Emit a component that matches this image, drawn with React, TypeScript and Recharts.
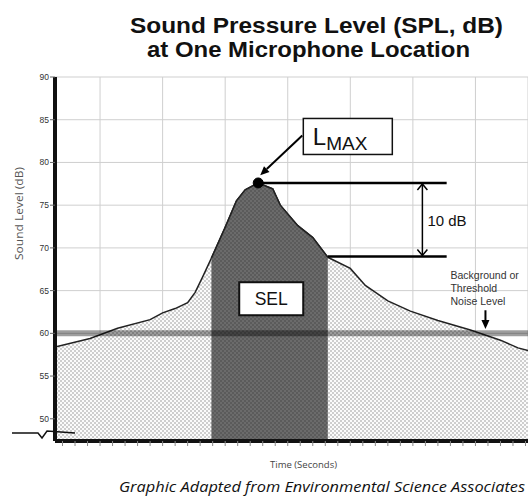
import React from "react";
import {
  ComposedChart,
  Area,
  XAxis,
  YAxis,
  CartesianGrid,
  ReferenceLine,
  ReferenceDot,
} from "recharts";

// ---- data (time in seconds, level in dB) ----
const times = [-3.6, -0.8, 1.4, 4, 5, 6, 7, 7.6, 8.2, 8.9, 10, 10.9, 11.6, 12.64, 13.8, 14.4, 15.8, 17, 18.2, 20, 21.2, 23, 24.8, 27, 29.6, 32, 33.4, 34.2];
const levels = [58.4, 59.4, 60.6, 61.6, 62.4, 62.9, 63.6, 64.8, 66.6, 68.8, 72.4, 75.5, 76.8, 77.6, 76.9, 75.0, 72.6, 71.2, 68.9, 67.6, 65.6, 63.8, 62.6, 61.5, 60.4, 59.2, 58.3, 58.0];
const selStart = 8.9;
const selEnd = 18.2;
const yTicks = [50, 55, 60, 65, 70, 75, 80, 85, 90];
const gridTimes = [0, 5, 10, 15, 20, 25, 30];
const minorTicks = [-3, -2, -1, 0, 1, 2, 3, 4, 5, 6, 7, 8, 9, 10, 11, 12, 13, 14, 15, 16, 17, 18, 19, 20, 21, 22, 23, 24, 25, 26, 27, 28, 29, 30, 31, 32, 33, 34];
const xDomain = [-3.6, 34.2];
const yDomain = [47.4, 90];
const backgroundLevel = 60;
const peakTime = 12.64;
const peakLevel = 77.6;
const tenDbLevel = 69.0;
const tenDbEndTime = 27.7;
const tenDbLowerStart = 18.2;
const tenDbArrowTime = 25.76;
const lmaxBox = { t: 19.8, level: 83.04 };
const lmaxArrowFrom = { t: 16.16, level: 83.15 };
const lmaxArrowTo = { t: 12.8, level: 78.5 };
const selBox = { t: 13.68, level: 64.05 };
const bgArrow = { t: 30.8, from: 62.7, to: 60.5 };

const data = times.map((t, i) => ({
  t,
  level: levels[i],
  sel: t >= selStart && t <= selEnd ? levels[i] : null,
}));

const SANS = "'Liberation Sans', Arial, Helvetica, sans-serif";
const HUMAN = "'Open Sans', 'Noto Sans', sans-serif";

const DoubleArrow = (p: any) => {
  const { x1, y1, x2, y2 } = p;
  const top = Math.min(y1, y2);
  const bot = Math.max(y1, y2);
  const h = 7;
  return (
    <g>
      <line x1={x1} y1={top} x2={x2} y2={bot} stroke="#000" strokeWidth={1.5} />
      <polyline points={`${x1 - 5},${top + h} ${x1},${top + 1} ${x1 + 5},${top + h}`} fill="none" stroke="#000" strokeWidth={1.5} />
      <polyline points={`${x1 - 5},${bot - h} ${x1},${bot - 1} ${x1 + 5},${bot - h}`} fill="none" stroke="#000" strokeWidth={1.5} />
      <text x={x1 + 5} y={(top + bot) / 2 + 6.5} fontFamily={SANS} fontSize={15} fill="#111">10 dB</text>
    </g>
  );
};

const FilledArrow = (p: any) => {
  const { x1, y1, x2, y2 } = p;
  const dx = x2 - x1;
  const dy = y2 - y1;
  const len = Math.sqrt(dx * dx + dy * dy) || 1;
  const ux = dx / len;
  const uy = dy / len;
  const hl = 9;
  const hw = 4;
  const bx = x2 - ux * hl;
  const by = y2 - uy * hl;
  return (
    <g>
      <line x1={x1} y1={y1} x2={bx} y2={by} stroke="#000" strokeWidth={2} />
      <polygon
        points={`${x2},${y2} ${bx - uy * hw},${by + ux * hw} ${bx + uy * hw},${by - ux * hw}`}
        fill="#000"
      />
    </g>
  );
};

const BgArrow = (p: any) => {
  const { x1, y1, x2, y2 } = p;
  return (
    <g>
      <FilledArrow x1={x1} y1={y1} x2={x2} y2={y2} />
      <text fontFamily={SANS} fontSize={10.5} fill="#333">
        <tspan x={x1 - 35} y={y1 - 31}>Background or</tspan>
        <tspan x={x1 - 35} y={y1 - 18}>Threshold</tspan>
        <tspan x={x1 - 35} y={y1 - 5}>Noise Level</tspan>
      </text>
    </g>
  );
};

const LmaxBox = (p: any) => {
  const { cx, cy } = p;
  const w = 89;
  const h = 36;
  return (
    <g>
      <rect x={cx - w / 2} y={cy - h / 2} width={w} height={h} fill="#fff" stroke="#111" strokeWidth={1.5} />
      <text x={cx - 35} y={cy + 9} fontSize={24} fontFamily={SANS} fill="#111">L</text>
      <text x={cx - 21.5} y={cy + 14} fontSize={19} fontFamily={SANS} fill="#111">MAX</text>
    </g>
  );
};

const SelBox = (p: any) => {
  const { cx, cy } = p;
  const w = 64;
  const h = 33;
  return (
    <g>
      <rect x={cx - w / 2} y={cy - h / 2} width={w} height={h} fill="#fff" stroke="#111" strokeWidth={2} />
      <text x={cx} y={cy + 6.5} textAnchor="middle" fontFamily={SANS} fontSize={17.5} fill="#111">SEL</text>
    </g>
  );
};

const PlainLine = (p: any) => (
  <line x1={p.x1} y1={p.y1} x2={p.x2} y2={p.y2} stroke="#000" strokeWidth={2.5} />
);

export default function App() {
  return (
    <div style={{ position: "absolute", left: 0, top: 0, width: 528, height: 498, background: "#fff", overflow: "hidden" }}>
      <ComposedChart
        width={528}
        height={498}
        data={data}
        margin={{ top: 77, right: 0, bottom: 27, left: 0 }}
      >
        <defs>
          <pattern id="lightDots" width={4} height={4} patternUnits="userSpaceOnUse">
            <rect width={4} height={4} fill="#fbfbfb" />
            <circle cx={1} cy={1} r={0.7} fill="#808080" />
            <circle cx={3} cy={3} r={0.7} fill="#808080" />
          </pattern>
          <pattern id="darkDots" width={4} height={4} patternUnits="userSpaceOnUse">
            <rect width={4} height={4} fill="#6b6b6b" />
            <circle cx={1} cy={1} r={0.8} fill="#474747" />
            <circle cx={3} cy={3} r={0.8} fill="#474747" />
          </pattern>
        </defs>
        <XAxis xAxisId="grid" dataKey="t" type="number" domain={xDomain} ticks={gridTimes} allowDataOverflow hide />
        <CartesianGrid xAxisId="grid" stroke="#cfcfcf" strokeWidth={1} />
        <XAxis
          dataKey="t"
          type="number"
          domain={xDomain}
          ticks={minorTicks}
          allowDataOverflow
          interval={0}
          height={30}
          tickSize={5}
          tickFormatter={() => ""}
          tickLine={{ stroke: "#888", strokeWidth: 1 }}
          axisLine={{ stroke: "#111", strokeWidth: 4 }}
        />
        <YAxis
          type="number"
          domain={yDomain}
          ticks={yTicks}
          allowDataOverflow
          interval={0}
          width={55}
          tickSize={5}
          tickMargin={1}
          tick={{ fontSize: 8.5, fill: "#333", fontFamily: SANS }}
          tickLine={{ stroke: "#666", strokeWidth: 1 }}
          axisLine={{ stroke: "#111", strokeWidth: 4 }}
        />
        <Area
          dataKey="level"
          type="linear"
          stroke="#222"
          strokeWidth={1.5}
          fill="url(#lightDots)"
          fillOpacity={1}
          isAnimationActive={false}
          dot={false}
          activeDot={false}
        />
        <Area
          dataKey="sel"
          type="linear"
          stroke="#222"
          strokeWidth={1.5}
          fill="url(#darkDots)"
          fillOpacity={1}
          isAnimationActive={false}
          dot={false}
          activeDot={false}
          connectNulls={false}
        />
        <ReferenceLine y={backgroundLevel} stroke="#000" strokeOpacity={0.38} strokeWidth={6} />
        <ReferenceLine
          segment={[{ x: peakTime, y: peakLevel }, { x: tenDbEndTime, y: peakLevel }]}
          shape={PlainLine}
        />
        <ReferenceLine
          segment={[{ x: tenDbLowerStart, y: tenDbLevel }, { x: tenDbEndTime, y: tenDbLevel }]}
          shape={PlainLine}
        />
        <ReferenceLine
          segment={[{ x: tenDbArrowTime, y: peakLevel }, { x: tenDbArrowTime, y: tenDbLevel }]}
          shape={DoubleArrow}
        />
        <ReferenceLine
          segment={[{ x: lmaxArrowFrom.t, y: lmaxArrowFrom.level }, { x: lmaxArrowTo.t, y: lmaxArrowTo.level }]}
          shape={FilledArrow}
        />
        <ReferenceLine
          segment={[{ x: bgArrow.t, y: bgArrow.from }, { x: bgArrow.t, y: bgArrow.to }]}
          shape={BgArrow}
        />
        <ReferenceDot x={peakTime} y={peakLevel} r={5} fill="#000" stroke="#000" />
        <ReferenceDot x={lmaxBox.t} y={lmaxBox.level} shape={LmaxBox} />
        <ReferenceDot x={selBox.t} y={selBox.level} shape={SelBox} />
      </ComposedChart>
      <svg width={528} height={498} style={{ position: "absolute", left: 0, top: 0, pointerEvents: "none" }}>
        <text x={316.5} y={33} textAnchor="middle" fontFamily={SANS} fontWeight="bold" fontSize={22} fill="#111" textLength={373} lengthAdjust="spacingAndGlyphs">
          Sound Pressure Level (SPL, dB)
        </text>
        <text x={308.5} y={57} textAnchor="middle" fontFamily={SANS} fontWeight="bold" fontSize={22} fill="#111" textLength={323} lengthAdjust="spacingAndGlyphs">
          at One Microphone Location
        </text>
        <text
          transform="translate(23,213.5) rotate(-90)"
          textAnchor="middle"
          fontFamily={HUMAN}
          fontSize={10}
          fill="#555"
          textLength={93}
          lengthAdjust="spacingAndGlyphs"
        >
          Sound Level (dB)
        </text>
        <text x={303.5} y={468} textAnchor="middle" fontFamily={HUMAN} fontSize={9.5} fill="#444" textLength={67} lengthAdjust="spacingAndGlyphs">
          Time (Seconds)
        </text>
        <text x={322} y={492} textAnchor="middle" fontFamily={HUMAN} fontStyle="italic" fontSize={15} fill="#111" textLength={406} lengthAdjust="spacingAndGlyphs">
          Graphic Adapted from Environmental Science Associates
        </text>
        <polyline points="12,433 38,433 42,438 47,431 75,433" fill="none" stroke="#111" strokeWidth={1.5} />
      </svg>
    </div>
  );
}
